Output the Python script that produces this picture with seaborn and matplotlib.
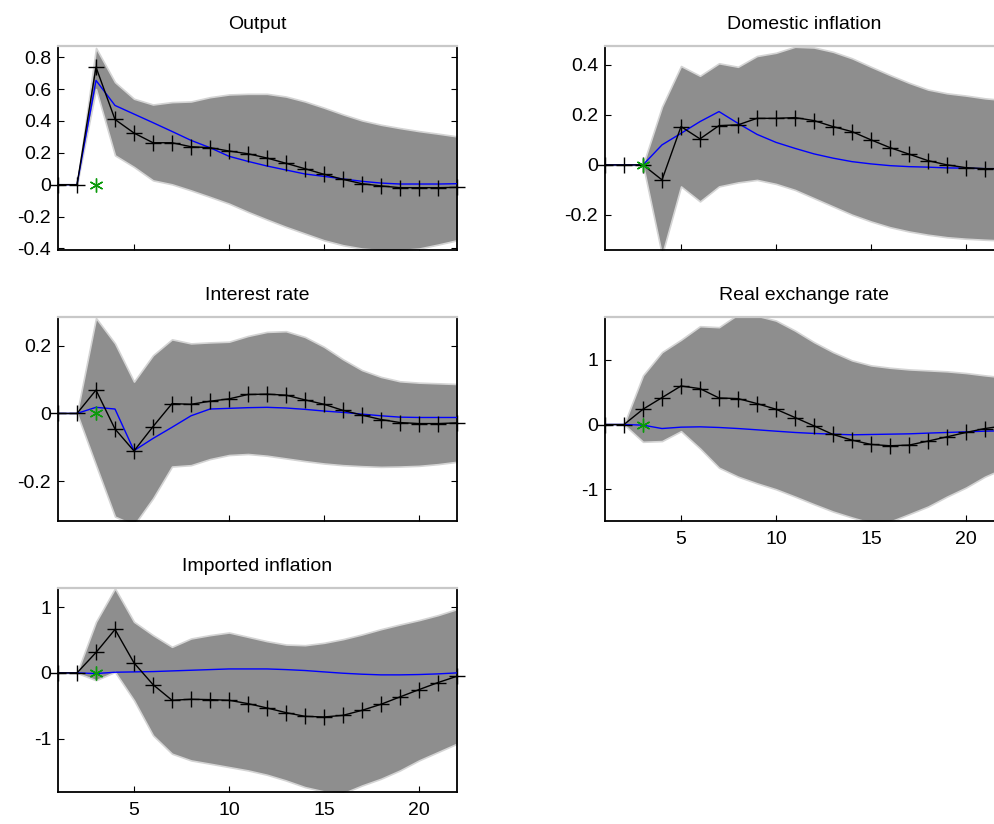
import numpy as np
import pandas as pd
import matplotlib
matplotlib.use("Agg")
import matplotlib.pyplot as plt
import seaborn as sns

periods = list(range(1, 23))

output_est = [0, 0, 0.737, 0.409, 0.324, 0.263, 0.263, 0.238, 0.232, 0.211, 0.194, 0.167,
              0.134, 0.100, 0.065, 0.033, 0.006, -0.008, -0.019, -0.019, -0.019, -0.017]
output_mod = [0, 0, 0.654, 0.497, 0.443, 0.389, 0.334, 0.278, 0.232, 0.178, 0.146, 0.117,
              0.092, 0.067, 0.052, 0.036, 0.021, 0.010, 0.004, 0.004, 0.004, 0.006]
output_hi = [0, 0, 0.858, 0.643, 0.539, 0.503, 0.518, 0.522, 0.549, 0.566, 0.570, 0.570,
             0.553, 0.522, 0.483, 0.441, 0.403, 0.376, 0.355, 0.336, 0.320, 0.303]
output_lo = [0, 0, 0.60, 0.184, 0.111, 0.027, 0.002, -0.036, -0.077, -0.119, -0.171, -0.219,
             -0.265, -0.307, -0.349, -0.380, -0.401, -0.411, -0.411, -0.401, -0.376, -0.349]

dinf_est = [0, 0, 0, -0.060, 0.153, 0.104, 0.157, 0.160, 0.186, 0.186, 0.189, 0.177,
            0.153, 0.133, 0.100, 0.069, 0.043, 0.017, 0.0, -0.011, -0.015, -0.015]
dinf_mod = [0, 0, 0, 0.080, 0.126, 0.173, 0.213, 0.166, 0.122, 0.090, 0.066, 0.044,
            0.027, 0.013, 0.004, -0.003, -0.007, -0.009, -0.012, -0.013, -0.015, -0.015]
dinf_hi = [0, 0, 0, 0.233, 0.395, 0.356, 0.406, 0.392, 0.435, 0.448, 0.472, 0.469,
           0.452, 0.426, 0.392, 0.359, 0.328, 0.301, 0.286, 0.277, 0.266, 0.259]
dinf_lo = [0, 0, 0, -0.36, -0.086, -0.146, -0.086, -0.070, -0.060, -0.076, -0.100, -0.133,
           -0.166, -0.199, -0.226, -0.249, -0.266, -0.279, -0.289, -0.295, -0.299, -0.302]

irate_est = [0, 0, 0.069, -0.046, -0.111, -0.039, 0.029, 0.027, 0.036, 0.043, 0.056, 0.057,
             0.054, 0.040, 0.027, 0.009, -0.005, -0.018, -0.027, -0.030, -0.030, -0.028]
irate_mod = [0, 0, 0.018, 0.013, -0.110, -0.074, -0.041, -0.007, 0.013, 0.015, 0.017, 0.018,
             0.016, 0.012, 0.007, 0.003, -0.002, -0.007, -0.011, -0.012, -0.012, -0.012]
irate_hi = [0, 0, 0.282, 0.207, 0.094, 0.172, 0.219, 0.207, 0.210, 0.212, 0.229, 0.241,
            0.243, 0.226, 0.197, 0.160, 0.128, 0.108, 0.095, 0.091, 0.089, 0.087]
irate_lo = [0, 0, -0.153, -0.305, -0.33, -0.251, -0.157, -0.153, -0.135, -0.123, -0.120, -0.125,
            -0.133, -0.141, -0.148, -0.153, -0.156, -0.158, -0.157, -0.155, -0.150, -0.143]

rer_est = [0, 0, 0.236, 0.415, 0.595, 0.554, 0.41, 0.40, 0.323, 0.236, 0.108, -0.021,
           -0.154, -0.241, -0.308, -0.328, -0.318, -0.256, -0.19, -0.123, -0.062, -0.02]
rer_mod = [0, 0, -0.01, -0.062, -0.041, -0.036, -0.046, -0.062, -0.082, -0.103, -0.123, -0.138,
           -0.149, -0.159, -0.154, -0.149, -0.144, -0.133, -0.123, -0.113, -0.103, -0.097]
rer_hi = [0, 0, 0.759, 1.118, 1.308, 1.518, 1.503, 1.70, 1.68, 1.605, 1.451, 1.272,
          1.118, 0.990, 0.913, 0.877, 0.851, 0.836, 0.821, 0.795, 0.759, 0.728]
rer_lo = [0, 0, -0.267, -0.256, -0.103, -0.369, -0.667, -0.805, -0.908, -1.0, -1.113, -1.231,
          -1.344, -1.436, -1.52, -1.50, -1.385, -1.267, -1.113, -0.974, -0.805, -0.677]

iinf_est = [0, 0, 0.31, 0.66, 0.152, -0.178, -0.416, -0.401, -0.406, -0.416, -0.467, -0.533,
            -0.604, -0.66, -0.67, -0.645, -0.569, -0.477, -0.365, -0.254, -0.147, -0.051]
iinf_mod = [0, 0, -0.01, 0.01, 0.015, 0.02, 0.03, 0.04, 0.05, 0.06, 0.06, 0.06,
            0.05, 0.036, 0.015, -0.005, -0.02, -0.03, -0.03, -0.025, -0.015, 0.0]
iinf_hi = [0, 0, 0.777, 1.284, 0.777, 0.574, 0.396, 0.523, 0.574, 0.614, 0.548, 0.482,
           0.431, 0.421, 0.457, 0.513, 0.584, 0.665, 0.736, 0.802, 0.878, 0.970]
iinf_lo = [0, 0, -0.112, 0.015, -0.416, -0.949, -1.228, -1.33, -1.38, -1.431, -1.482, -1.548,
           -1.635, -1.736, -1.802, -1.83, -1.711, -1.609, -1.482, -1.33, -1.203, -1.076]

titles = ["Output", "Domestic inflation", "Interest rate", "Real exchange rate", "Imported inflation"]
ylims = [(-0.41, 0.87), (-0.34, 0.475), (-0.318, 0.285), (-1.49, 1.66), (-1.81, 1.29)]
yticks = [[-0.4, -0.2, 0, 0.2, 0.4, 0.6, 0.8], [-0.2, 0, 0.2, 0.4], [-0.2, 0, 0.2],
          [-1, 0, 1], [-1, 0, 1]]
xticks = [5, 10, 15, 20]
shock_x = 3

sns.set_style("white")
plt.rcParams["font.family"] = ["Liberation Sans", "DejaVu Sans"]

W, H = 995, 824
fig = plt.figure(figsize=(W / 100, H / 100), dpi=100)

# pixel boxes (left, top, right, bottom)
boxes = [(58, 46, 457, 250), (605, 46, 1004, 250),
         (58, 317, 457, 521), (605, 317, 1004, 521),
         (58, 588, 457, 792)]
show_xlabels = [False, False, False, True, True]

series = [(output_est, output_mod, output_hi, output_lo),
          (dinf_est, dinf_mod, dinf_hi, dinf_lo),
          (irate_est, irate_mod, irate_hi, irate_lo),
          (rer_est, rer_mod, rer_hi, rer_lo),
          (iinf_est, iinf_mod, iinf_hi, iinf_lo)]


def fmt(v):
    if abs(v) < 1e-9:
        return "0"
    return f"{v:g}"


for i, (box, (est, mod, hi, lo)) in enumerate(zip(boxes, series)):
    l, t, r, b = box
    ax = fig.add_axes([l / W, 1 - b / H, (r - l) / W, (b - t) / H])
    df = pd.DataFrame({"period": periods, "est": est, "mod": mod, "hi": hi, "lo": lo})
    ax.fill_between(df["period"], df["lo"], df["hi"], facecolor="#8e8e8e",
                    edgecolor="#d4d4d4", linewidth=1.2, zorder=1)
    sns.lineplot(data=df, x="period", y="mod", ax=ax, color="#0000ff", linewidth=1.0,
                 zorder=3)
    sns.lineplot(data=df, x="period", y="est", ax=ax, color="black", linewidth=1.0,
                 marker="+", markersize=12, markeredgewidth=1.0, markeredgecolor="black",
                 zorder=4, clip_on=False)
    ax.plot([shock_x], [0], marker=(6, 2, 0), markersize=10, color="#0b9a0b",
            markeredgewidth=1.0, linestyle="none", zorder=5, clip_on=False)
    ax.set_xlim(1, 22)
    ax.set_ylim(*ylims[i])
    ax.set_xticks(xticks)
    ax.set_yticks(yticks[i])
    ax.set_yticklabels([fmt(v) for v in yticks[i]])
    if show_xlabels[i]:
        ax.set_xticklabels([str(v) for v in xticks])
    else:
        ax.set_xticklabels([])
    ax.set_xlabel("")
    ax.set_ylabel("")
    ax.tick_params(axis="both", direction="in", length=4, width=0.8, color="black",
                   labelsize=14, labelcolor="black")
    ax.tick_params(axis="y", right=True, left=True, pad=5)
    ax.tick_params(axis="x", bottom=True, top=False, pad=7)
    for side in ["left", "right", "bottom"]:
        ax.spines[side].set_color("black")
        ax.spines[side].set_linewidth(1.3)
        ax.spines[side].set_visible(True)
    ax.spines["top"].set_color("#c8c8c8")
    ax.spines["top"].set_linewidth(1.6)
    ax.spines["top"].set_visible(True)
    ax.set_facecolor("white")
    ax.set_title(titles[i], fontsize=14, pad=12, color="black")

fig.savefig("out.png", dpi=100, facecolor="white")
